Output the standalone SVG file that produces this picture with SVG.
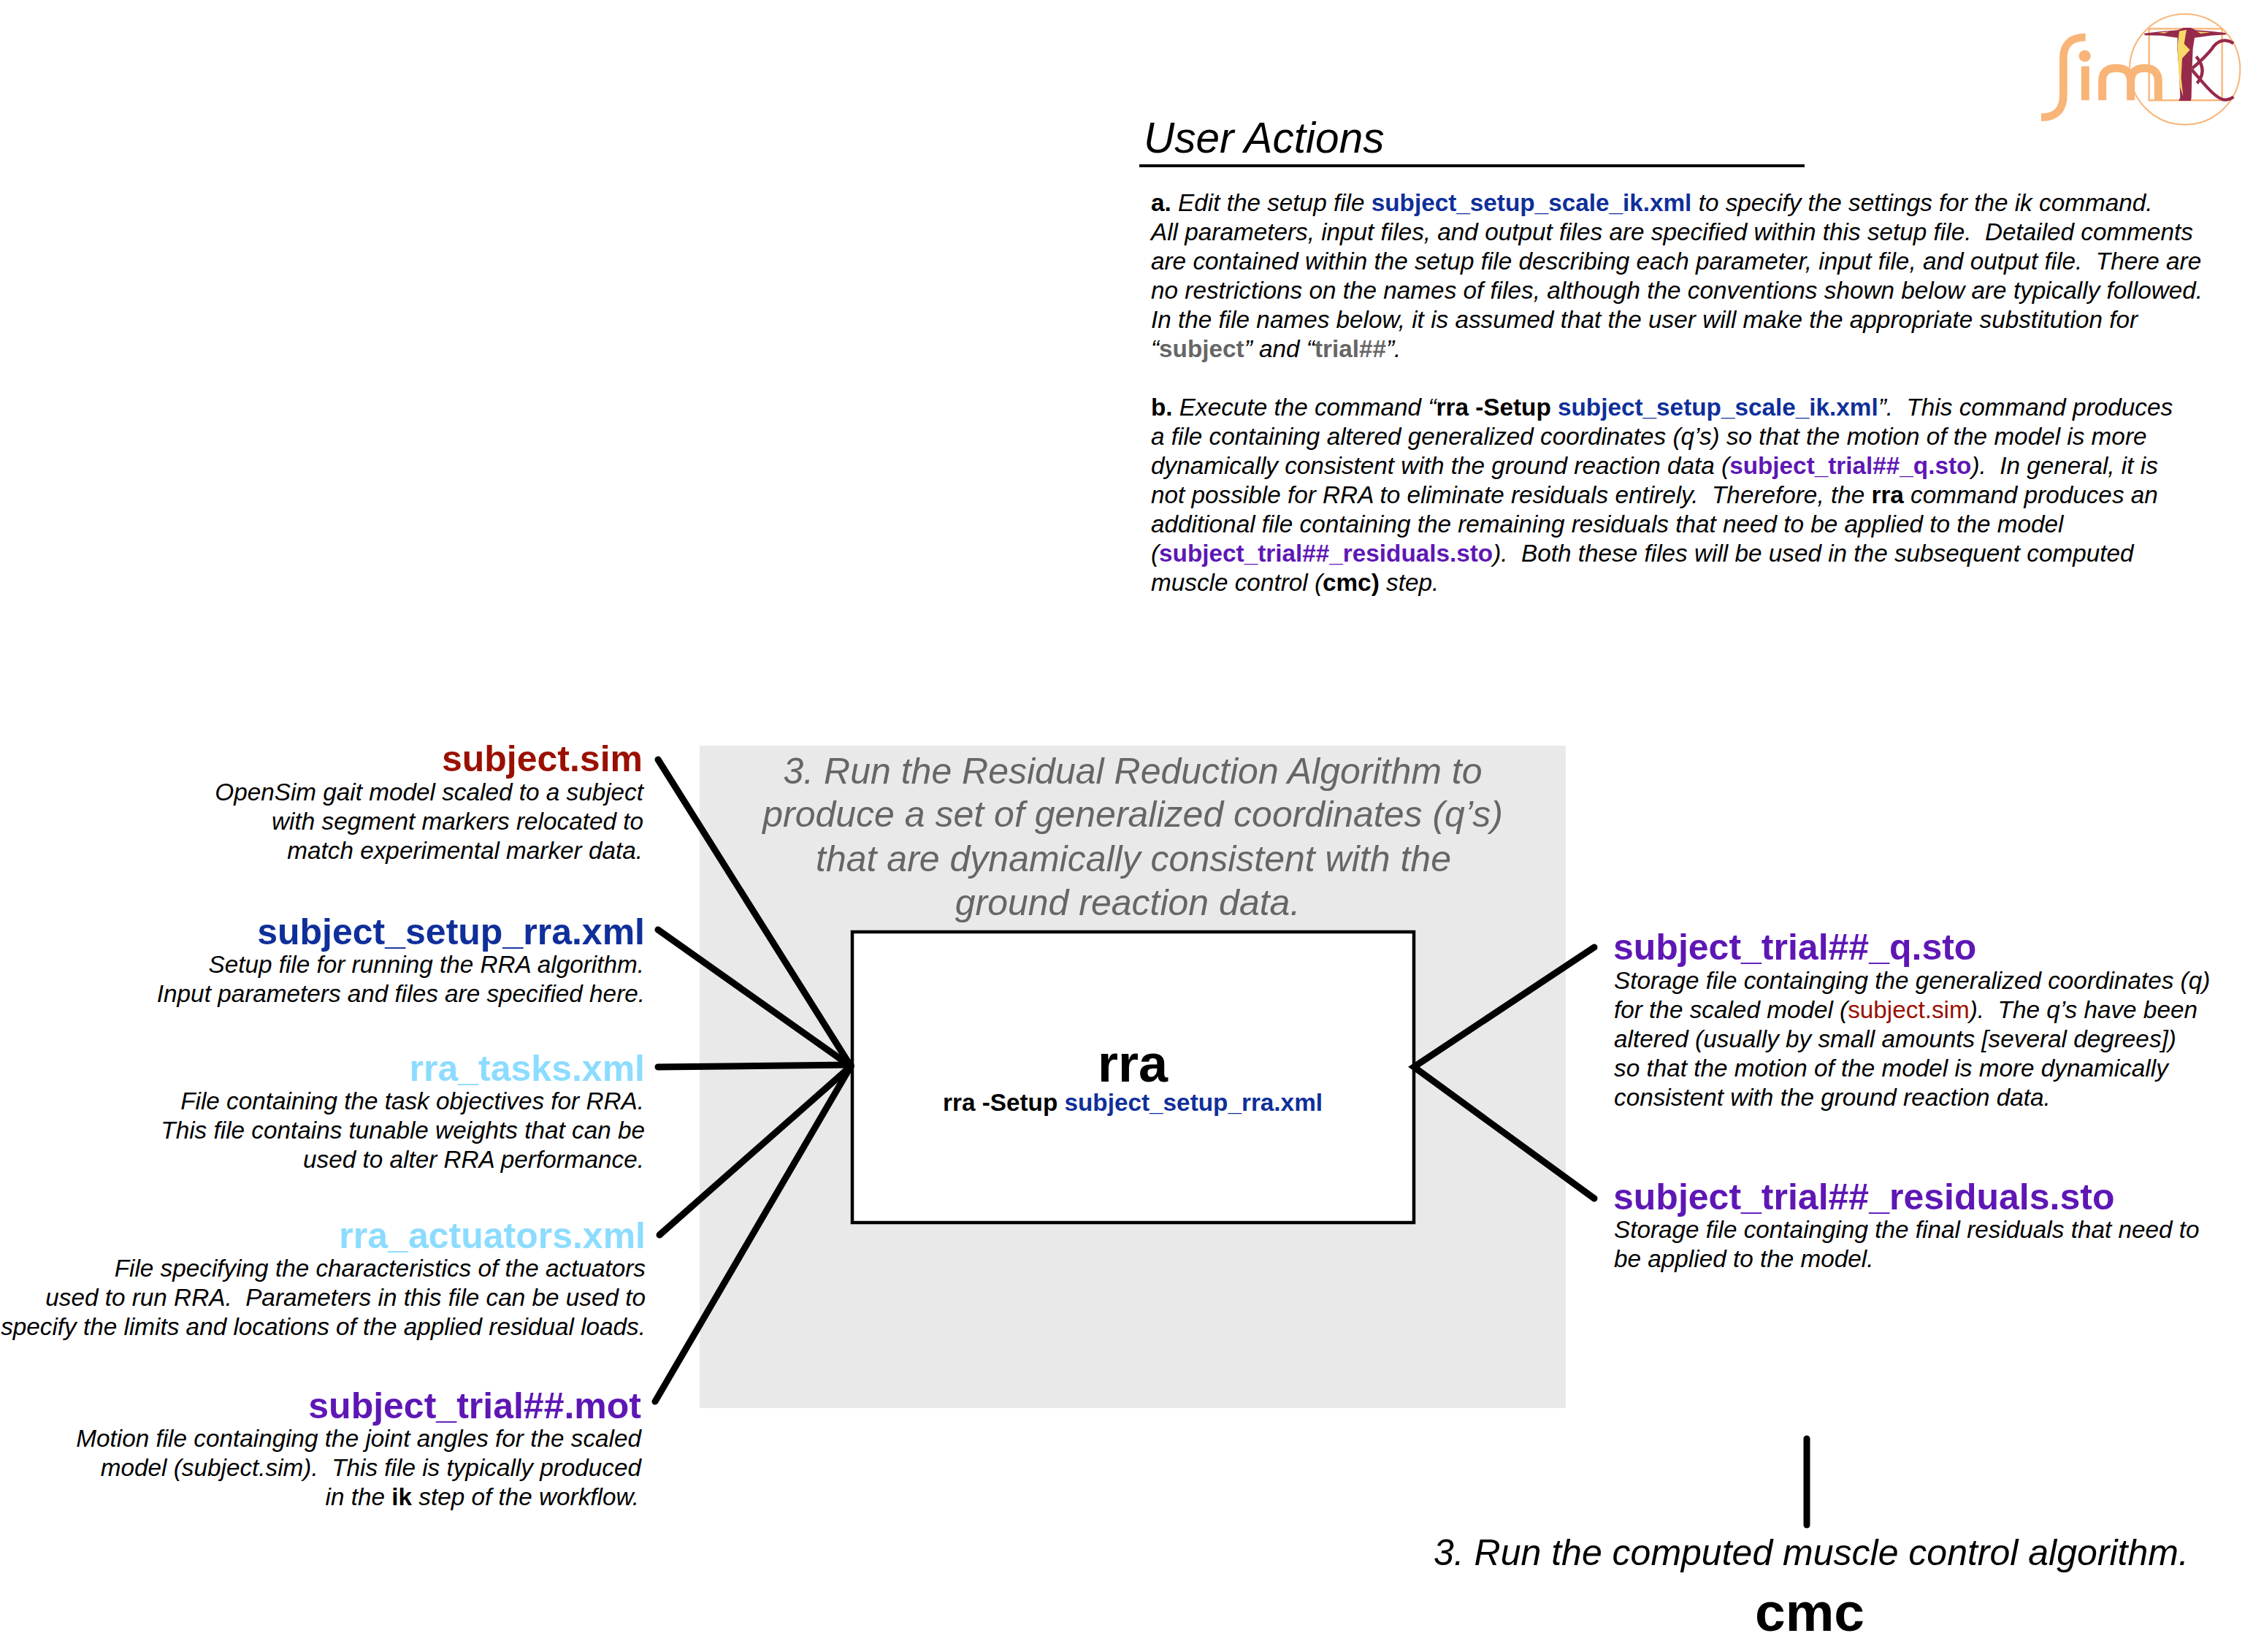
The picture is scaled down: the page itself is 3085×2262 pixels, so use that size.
<svg xmlns="http://www.w3.org/2000/svg" width="3085" height="2262" viewBox="0 0 3085 2262">
<title>RRA workflow step</title>
<style>
text{font-family:"Liberation Sans",Arial,sans-serif;white-space:pre}
.b{font-size:33.3px;font-style:italic;fill:#000}
.h{font-size:50px;font-weight:700}
.e{text-anchor:end}
.s{font-weight:700;font-style:normal}
.u{font-style:normal}
.red{fill:#9a1000}.blue{fill:#0f2f9a}.sky{fill:#8cdcff}.pur{fill:#5e17b5}.gry{fill:#666}.blk{fill:#000}
.c{stroke:#000;stroke-width:9;stroke-linecap:round;fill:none}
.t{font-size:50px;font-style:italic;text-anchor:middle;fill:#666}
.o{fill:none;stroke:#f9b477}
</style>
<rect width="3085" height="2262" fill="#fff"/>
<g id="logo" transform="translate(2760 0) scale(.33333)">
<circle class="o" cx="695" cy="285" r="227" stroke-width="6"/>
<rect class="o" x="548" y="118" width="300" height="294" stroke-width="7"/>
<path class="o" stroke-width="32" d="M287 153Q196 153 196 240V390Q196 482 105 482"/>
<circle cx="284" cy="230" r="24" fill="#f9b477"/>
<path class="o" stroke-width="33" d="M286 272V412M356 412V330Q356 280 415 280Q473 280 473 335V412M473 335Q473 280 530 280Q586 280 586 335V412"/>
<path fill="#962a4a" d="M528 137Q600 128 665 124L690 114H720L740 124Q800 128 862 135L866 142L800 146L735 155L728 200L724 300L722 400L720 414H670L676 400L672 300L664 200L665 155L600 146L530 145Z"/>
<path fill="#f8d867" d="M672 128L702 122L692 180L716 205L684 240L680 320L688 395L676 360L670 300L665 190ZM585 134L630 130L610 137ZM745 130L800 133L760 138Z"/>
<path fill="none" stroke="#962a4a" stroke-width="13" d="M726 280Q790 225 815 188Q850 150 895 178M722 285L770 340Q830 410 860 410Q880 410 895 398M742 232Q790 290 745 342"/>
</g>
<g id="user-actions">
<text x="1566" y="209" font-size="58.5" font-style="italic">User Actions</text>
<rect x="1560" y="225" width="911" height="4" fill="#000"/>
<text class="b" x="1576" y="289"><tspan class="s">a. </tspan>Edit the setup file <tspan class="s blue">subject_setup_scale_ik.xml</tspan> to specify the settings for the ik command.</text>
<text class="b" x="1576" y="329">All parameters, input files, and output files are specified within this setup file.  Detailed comments</text>
<text class="b" x="1576" y="369">are contained within the setup file describing each parameter, input file, and output file.  There are</text>
<text class="b" x="1576" y="409">no restrictions on the names of files, although the conventions shown below are typically followed.</text>
<text class="b" x="1576" y="449">In the file names below, it is assumed that the user will make the appropriate substitution for</text>
<text class="b" x="1576" y="489">“<tspan class="s gry">subject</tspan>” and “<tspan class="s gry">trial##</tspan>”.</text>
<text class="b" x="1576" y="569"><tspan class="s">b. </tspan>Execute the command “<tspan class="s">rra -Setup </tspan><tspan class="s blue">subject_setup_scale_ik.xml</tspan>”.  This command produces</text>
<text class="b" x="1576" y="609">a file containing altered generalized coordinates (q’s) so that the motion of the model is more</text>
<text class="b" x="1576" y="649">dynamically consistent with the ground reaction data (<tspan class="s pur">subject_trial##_q.sto</tspan>).  In general, it is</text>
<text class="b" x="1576" y="689">not possible for RRA to eliminate residuals entirely.  Therefore, the <tspan class="s">rra</tspan> command produces an</text>
<text class="b" x="1576" y="729">additional file containing the remaining residuals that need to be applied to the model</text>
<text class="b" x="1576" y="769">(<tspan class="s pur">subject_trial##_residuals.sto</tspan>).  Both these files will be used in the subsequent computed</text>
<text class="b" x="1576" y="809">muscle control (<tspan class="s">cmc)</tspan> step.</text>
</g>
<g id="rra-step">
<rect x="958" y="1021" width="1186" height="907" fill="#e9e9e9"/>
<text class="t" x="1551" y="1073">3. Run the Residual Reduction Algorithm to</text>
<text class="t" x="1551" y="1132">produce a set of generalized coordinates (q’s)</text>
<text class="t" x="1552" y="1193">that are dynamically consistent with the</text>
<text class="t" x="1544" y="1253">ground reaction data.</text>
</g>
<g id="rra">
<rect x="1167" y="1276" width="769" height="398" fill="#fff" stroke="#000" stroke-width="4.5"/>
<text x="1551" y="1481" font-size="72" font-weight="700" text-anchor="middle">rra</text>
<text x="1551" y="1521" font-size="33.3" font-weight="700" text-anchor="middle">rra -Setup <tspan class="blue">subject_setup_rra.xml</tspan></text>
</g>
<g id="connectors">
<path class="c" d="M901 1040L1165 1460"/>
<path class="c" d="M901 1273L1165 1460"/>
<path class="c" d="M901 1461L1165 1458" stroke-width="10"/>
<path class="c" d="M903 1691L1165 1460"/>
<path class="c" d="M897 1919L1165 1460"/>
<path class="c" d="M2183 1297L1936 1461L2183 1641"/>
<path class="c" d="M2474 1970V2088"/>
</g>
<g id="subject-sim">
<text class="h red e" x="880" y="1056">subject.sim</text>
<text class="b e" x="881" y="1096">OpenSim gait model scaled to a subject</text>
<text class="b e" x="881" y="1136">with segment markers relocated to</text>
<text class="b e" x="880" y="1176">match experimental marker data.</text>
</g>
<g id="subject-setup-rra">
<text class="h blue e" x="883" y="1293">subject_setup_rra.xml</text>
<text class="b e" x="882" y="1332">Setup file for running the RRA algorithm.</text>
<text class="b e" x="883" y="1372">Input parameters and files are specified here.</text>
</g>
<g id="rra-tasks">
<text class="h sky e" x="883" y="1480">rra_tasks.xml</text>
<text class="b e" x="882" y="1519">File containing the task objectives for RRA.</text>
<text class="b e" x="883" y="1559">This file contains tunable weights that can be</text>
<text class="b e" x="882" y="1599">used to alter RRA performance.</text>
</g>
<g id="rra-actuators">
<text class="h sky e" x="884" y="1709">rra_actuators.xml</text>
<text class="b e" x="884" y="1748">File specifying the characteristics of the actuators</text>
<text class="b e" x="884" y="1788">used to run RRA.  Parameters in this file can be used to</text>
<text class="b e" x="884" y="1828">specify the limits and locations of the applied residual loads.</text>
</g>
<g id="subject-trial-mot">
<text class="h pur e" x="878" y="1942">subject_trial##.mot</text>
<text class="b e" x="878" y="1981">Motion file containging the joint angles for the scaled</text>
<text class="b e" x="878" y="2021">model (subject.sim).  This file is typically produced</text>
<text class="b e" x="875" y="2061">in the <tspan class="s">ik</tspan> step of the workflow.</text>
</g>
<g id="subject-trial-q">
<text class="h pur" x="2209" y="1314">subject_trial##_q.sto</text>
<text class="b" x="2210" y="1354">Storage file containging the generalized coordinates (q)</text>
<text class="b" x="2210" y="1394">for the scaled model (<tspan class="red u">subject.sim</tspan>).  The q’s have been</text>
<text class="b" x="2210" y="1434">altered (usually by small amounts [several degrees])</text>
<text class="b" x="2210" y="1474">so that the motion of the model is more dynamically</text>
<text class="b" x="2210" y="1514">consistent with the ground reaction data.</text>
</g>
<g id="subject-trial-residuals">
<text class="h pur" x="2209" y="1656">subject_trial##_residuals.sto</text>
<text class="b" x="2210" y="1695">Storage file containging the final residuals that need to</text>
<text class="b" x="2210" y="1735">be applied to the model.</text>
</g>
<g id="cmc">
<text x="1963" y="2143" font-size="50" font-style="italic">3. Run the computed muscle control algorithm.</text>
<text x="2478" y="2233" font-size="75" font-weight="700" text-anchor="middle">cmc</text>
</g>
</svg>
